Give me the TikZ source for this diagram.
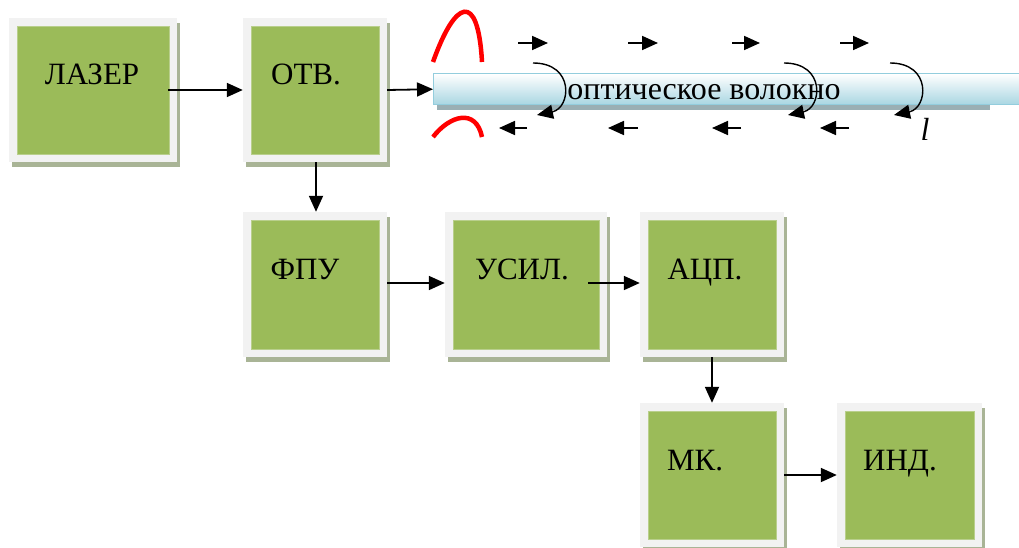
\documentclass[tikz,border=0pt]{standalone}
\usepackage{fontspec}
\setmainfont{Liberation Serif}
\newfontfamily\tim{Liberation Serif}
\usetikzlibrary{arrows.meta}

\definecolor{ramka}{HTML}{F2F2F2}
\definecolor{zelen}{HTML}{9BBB59}
\definecolor{kant}{HTML}{B9CF8C}
\definecolor{ten}{HTML}{A9B496}
\definecolor{volten}{HTML}{9AAFB4}
\definecolor{volkant}{HTML}{93CDDD}
\definecolor{volniz}{HTML}{A9D6E2}

\begin{document}
\begin{tikzpicture}[x=1pt, y=-1pt, >={Triangle[length=16pt,width=14pt]},
  blok/.style={minimum width=144pt, minimum height=144pt, inner sep=0pt, fill=ramka,
    preaction={fill=ten, transform canvas={shift={(3pt,-5pt)}}},
    path picture={\fill[zelen, draw=kant, line width=0.6pt]
      ([shift={(8pt,8pt)}]path picture bounding box.south west) rectangle
      ([shift={(-8pt,-8pt)}]path picture bounding box.north east);}},
  lbl/.style={anchor=base, inner sep=0pt, font=\tim\fontsize{31}{36}\selectfont},
  pil/.style={->, line width=1.8pt},
  petlya/.style={->, line width=1.4pt},
  impuls/.style={red, line width=4.5pt}]

\clip (0,0) rectangle (1019,548);

% bloki
\node[blok, minimum width=168pt] (lz) at (93,90) {};
\node[blok] (otv) at (315,90) {};
\node[blok, minimum height=145pt] (fpu) at (315,284.5) {};
\node[blok, minimum width=162pt, minimum height=145pt] (usil) at (526,284.5) {};
\node[blok, minimum height=145pt] (acp) at (712,284.5) {};
\node[blok] (mk) at (712,475) {};
\node[blok, minimum width=145pt] (ind) at (909.5,475) {};

% nadpisi
\node[lbl] (lzt) at ([xshift=-1pt,yshift=-67pt]lz.north) {ЛАЗЕР};
\node[lbl] (otvt) at ([xshift=-9pt,yshift=-67pt]otv.north) {ОТВ.};
\node[lbl] (fput) at ([xshift=-10pt,yshift=-68pt]fpu.north) {ФПУ};
\node[lbl] (usilt) at ([xshift=-4pt,yshift=-68pt]usil.north) {УСИЛ.};
\node[lbl] (acpt) at ([xshift=-7pt,yshift=-68pt]acp.north) {АЦП.};
\node[lbl] (mkt) at ([xshift=-17pt,yshift=-68pt]mk.north) {МК.};
\node[lbl] (indt) at ([xshift=-9.5pt,yshift=-68pt]ind.north) {ИНД.};

% opticheskoe volokno
\fill[volten] (437,78) rectangle (990,110);
\node[anchor=north west, minimum width=640pt, minimum height=31pt, inner sep=0pt,
  draw=volkant, line width=1.4pt, top color=white, bottom color=volniz] (vol) at (433,73) {};
\node[lbl, font=\tim\fontsize{32}{38}\selectfont] (volt) at (704,100) {оптическое волокно};
\node[inner sep=0pt, font=\tim\fontsize{32}{38}\selectfont\itshape] (ell) at (925,129) {l};

% impulsy
\draw[impuls] (433,62) .. controls (455,0) and (478,-10) .. (482,62);
\draw[impuls] (433,137) .. controls (450,115) and (476,108) .. (482,137);

% strelki vdol volokna
\foreach \xa/\xb in {518/548, 628/658, 732/760, 840/869}
  \draw[pil] (\xa,43) -- (\xb,43);
\foreach \xa/\xb in {527/499, 638/608, 741/712, 849/820}
  \draw[pil] (\xa,128) -- (\xb,128);

% otrazhenie
\foreach \xs in {533, 784, 890}
  \draw[petlya] (\xs,63) .. controls (\xs+42,63) and (\xs+38,108) .. (\xs+4,115);

% svyazi
\draw[pil] ([xshift=-9pt]lz.east) -- (otv.west);
\draw[pil] (otv.east) -- (vol.west);
\draw[pil] ([xshift=1pt]otv.south) -- ([xshift=1pt]fpu.north);
\draw[pil] ([yshift=1.5pt]fpu.east) -- ([yshift=1.5pt]usil.west);
\draw[pil] ([xshift=-19pt,yshift=1.5pt]usil.east) -- ([yshift=1.5pt]acp.west);
\draw[pil] (acp.south) -- (mk.north);
\draw[pil] (mk.east) -- (ind.west);

\end{tikzpicture}
\end{document}
